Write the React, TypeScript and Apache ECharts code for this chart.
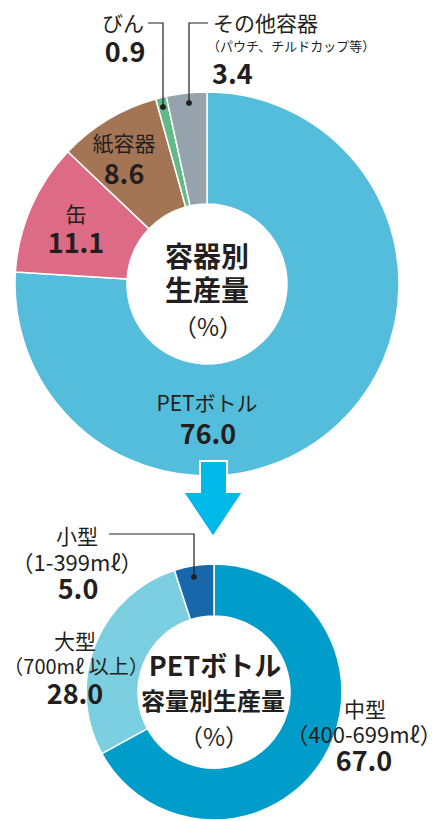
import React, { useEffect, useRef } from "react";
import * as echarts from "echarts";

const topCategories = ["PETボトル", "缶", "紙容器", "びん", "その他容器"];
const topValues = [76.0, 11.1, 8.6, 0.9, 3.4];
const topColors = ["#55BDDC", "#DD6B86", "#A47555", "#62B98A", "#95A4AC"];
const otherNote = "（パウチ、チルドカップ等）";

const bottomCategories = ["中型", "大型", "小型"];
const bottomSubLabels = ["（400-699mℓ）", "（700mℓ 以上）", "（1-399mℓ）"];
const bottomValues = [67.0, 28.0, 5.0];
const bottomColors = ["#009DCB", "#7BCFE1", "#1768AB"];

const topCenterTitle = ["容器別", "生産量"];
const bottomCenterTitle = ["PETボトル", "容量別生産量"];
const unitLabel = "（%）";

const FONT = '"Noto Sans CJK JP", "Noto Sans", sans-serif';
const INK = "#231f20";

function txt(text: string, x: number, y: number, size: number, bold = false, align = "center") {
  return {
    type: "text",
    x,
    y,
    z: 10,
    style: {
      text,
      fill: INK,
      font: `${bold ? "bold " : ""}${size}px ${FONT}`,
      lineHeight: Math.round(size * 0.95),
      textAlign: align,
      textVerticalAlign: "middle",
    },
  };
}

export default function App() {
  const ref = useRef<HTMLDivElement>(null);
  useEffect(() => {
    document.body.style.margin = "0";
    const chart = echarts.init(ref.current!, null, { renderer: "svg" });
    const fmt = (v: number) => v.toFixed(1);
    const graphics: any[] = [
      // top labels
      txt(topCategories[3], 123, 22, 21),
      txt(fmt(topValues[3]), 125, 50, 27, true),
      txt(topCategories[4], 213, 22, 21, false, "left"),
      txt(otherNote, 207, 45, 13, false, "left"),
      txt(fmt(topValues[4]), 212, 72, 27, true, "left"),
      txt(topCategories[2], 124, 142, 21),
      txt(fmt(topValues[2]), 124, 172, 27, true),
      txt(topCategories[1], 76, 213, 21),
      txt(fmt(topValues[1]), 76, 241, 27, true),
      txt(topCategories[0], 207, 402, 21),
      txt(fmt(topValues[0]), 208, 432, 27, true),
      txt(topCenterTitle[0], 207, 255, 28, true),
      txt(topCenterTitle[1], 207, 289, 28, true),
      txt(unitLabel, 208, 325, 24),
      // leader lines top
      {
        type: "polyline",
        z: 10,
        shape: { points: [[148, 23], [163, 23], [163, 107]] },
        style: { stroke: INK, lineWidth: 1.2, fill: null },
      },
      { type: "circle", z: 10, shape: { cx: 163, cy: 107, r: 3 }, style: { fill: INK } },
      {
        type: "polyline",
        z: 10,
        shape: { points: [[208, 23], [189, 23], [189, 103]] },
        style: { stroke: INK, lineWidth: 1.2, fill: null },
      },
      { type: "circle", z: 10, shape: { cx: 189, cy: 103, r: 3 }, style: { fill: INK } },
      // arrow
      {
        type: "polygon",
        z: 10,
        shape: {
          points: [
            [200, 461], [227, 461], [227, 492], [243, 492], [213, 537], [183, 492], [200, 492],
          ],
        },
        style: { fill: "#00B9E8", stroke: "#ffffff", lineWidth: 2 },
      },
      // bottom labels
      txt(bottomCategories[2], 77, 535, 21),
      txt(bottomSubLabels[2], 77, 561, 22),
      txt(fmt(bottomValues[2]), 78, 587, 27, true),
      {
        type: "polyline",
        z: 10,
        shape: { points: [[109, 534], [194, 534], [194, 577]] },
        style: { stroke: INK, lineWidth: 1.2, fill: null },
      },
      { type: "circle", z: 10, shape: { cx: 194, cy: 577, r: 3 }, style: { fill: INK } },
      txt(bottomCategories[1], 75, 640, 21),
      txt(bottomSubLabels[1], 76, 665, 20),
      txt(fmt(bottomValues[1]), 75, 692, 27, true),
      txt(bottomCategories[0], 365, 708, 21),
      txt(bottomSubLabels[0], 364, 733, 22),
      txt(fmt(bottomValues[0]), 364, 759, 27, true),
      txt(bottomCenterTitle[0], 215, 664, 27, true),
      txt(bottomCenterTitle[1], 213, 699, 24, true),
      txt(unitLabel, 214, 735, 24),
    ];

    chart.setOption({
      animation: false,
      series: [
        {
          type: "pie",
          center: [207, 284],
          radius: [80, 192],
          startAngle: 90,
          clockwise: true,
          label: { show: false },
          labelLine: { show: false },
          emphasis: { disabled: true },
          itemStyle: { borderColor: "#ffffff", borderWidth: 1.5 },
          data: topCategories.map((name, i) => ({
            name,
            value: topValues[i],
            itemStyle: { color: topColors[i] },
          })),
        },
        {
          type: "pie",
          center: [214, 692],
          radius: [76, 128],
          startAngle: 90,
          clockwise: true,
          label: { show: false },
          labelLine: { show: false },
          emphasis: { disabled: true },
          itemStyle: { borderColor: "#ffffff", borderWidth: 1.5 },
          data: bottomCategories.map((name, i) => ({
            name,
            value: bottomValues[i],
            itemStyle: { color: bottomColors[i] },
          })),
        },
      ],
      graphic: graphics,
    });
    return () => chart.dispose();
  }, []);
  return <div ref={ref} style={{ width: 442, height: 821 }} />;
}
